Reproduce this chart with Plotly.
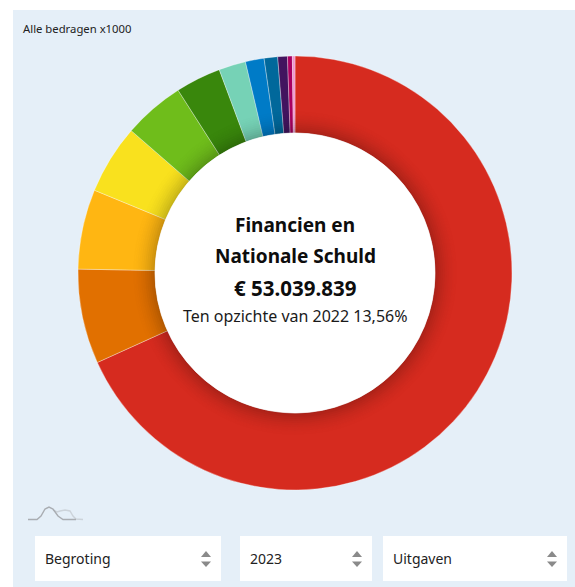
import plotly.graph_objects as go

W, H = 575, 587
labels = ["Financien en Nationale Schuld", "Post 2", "Post 3", "Post 4", "Post 5", "Post 6",
          "Post 7", "Post 8", "Post 9", "Post 10", "Post 11", "Post 12"]
values = [53039839, 5480000, 4620000, 4010000, 3540000, 2630000,
          1560000, 1080000, 780000, 560000, 280000, 150000]
colors = ["#d62b1f", "#e17000", "#ffb612", "#f9e11e", "#6fbd1b", "#39870c",
          "#76d2b6", "#007bc7", "#01689b", "#42145f", "#a90061", "#f092cd"]
center_lines = ["<b>Financien en</b>", "<b>Nationale Schuld</b>", "<b>€ 53.039.839</b>"]
center_sizes = [19, 19, 20.5]
sub_line = "Ten opzichte van 2022 13,56%"
note = "Alle bedragen x1000"
selects = ["Begroting", "2023", "Uitgaven"]

FONT = "Noto Sans"
CX, CY, R, RI = 295, 273, 217, 140
px = lambda x: x / W
py = lambda y: 1 - y / H

fig = go.Figure(go.Pie(
    labels=labels, values=values, sort=False, direction="clockwise", rotation=0,
    hole=RI / R, textinfo="none", hoverinfo="label+value",
    marker=dict(colors=colors, line=dict(color="rgba(255,255,255,0.55)", width=0.6)),
    domain=dict(x=[px(CX - R), px(CX + R)], y=[py(CY + R), py(CY - R)]),
    showlegend=False,
))

def rect(x0, y0, x1, y1, color, layer="below"):
    return dict(type="rect", xref="paper", yref="paper", x0=px(x0), x1=px(x1),
                y0=py(y1), y1=py(y0), fillcolor=color, line_width=0, layer=layer)

def circle(r, **kw):
    return dict(type="circle", xref="paper", yref="paper", x0=px(CX - r), x1=px(CX + r),
                y0=py(CY + r), y1=py(CY - r), layer="above", **kw)

shapes = [rect(13, 10, W, H, "#e5eff8")]
# soft shadow of the white centre on the ring
N = 12
for i in range(N, 0, -1):
    a = 0.20 * (1 - (i - 1) / N) ** 2
    shapes.append(circle(RI + i * 2 - 1, fillcolor="rgba(0,0,0,0)",
                         line=dict(color=f"rgba(0,0,0,{a:.3f})", width=2)))
shapes.append(circle(RI, fillcolor="white", line=dict(color="white", width=0.5)))

boxes = [(35, 221), (240, 372), (383, 567)]
annotations = []
def text(x, y, s, size, color="#111111", anchor="center"):
    annotations.append(dict(xref="paper", yref="paper", x=px(x), y=py(y), text=s, showarrow=False,
                            xanchor=anchor, yanchor="middle",
                            font=dict(family=FONT, size=size, color=color)))

for (x0, x1), s in zip(boxes, selects):
    shapes.append(rect(x0, 536, x1, 581, "white"))
    text(x0 + 8, 558.5, s, 14, "#222222", "left")
    ax = x1 - 15
    for tip, base in ((551, 557), (567, 561.5)):
        path = f"M {px(ax-5)} {py(base)} L {px(ax+5)} {py(base)} L {px(ax)} {py(tip)} Z"
        shapes.append(dict(type="path", xref="paper", yref="paper", path=path,
                           fillcolor="#8a8a8a", line_width=0))

# small sparkline icon
def curve(pts):
    return "M " + " L ".join(f"{px(x)} {py(y)}" for x, y in pts)
shapes.append(dict(type="path", xref="paper", yref="paper",
                   path=curve([(53, 510), (57, 512), (60, 511), (65, 510), (70, 511), (73, 516), (76, 519), (83, 519.5)]),
                   line=dict(color="#ccd3da", width=1.4), fillcolor="rgba(0,0,0,0)"))
shapes.append(dict(type="path", xref="paper", yref="paper",
                   path=curve([(28, 519.5), (37, 519.5), (41, 516), (45, 509), (49, 507), (53, 509), (58, 516), (63, 519.5), (76, 519.5)]),
                   line=dict(color="#a9adb2", width=1.4), fillcolor="rgba(0,0,0,0)"))

text(21, 28, note, 11.3, "#222222", "left")
for y, s, fs in zip((225, 256, 288), center_lines, center_sizes):
    text(CX, y, s, fs, "#0d0d0d")
text(CX, 316, sub_line, 16, "#1a1a1a")

fig.update_layout(width=W, height=H, margin=dict(l=0, r=0, t=0, b=0), autosize=False,
                  paper_bgcolor="white", plot_bgcolor="white",
                  shapes=shapes, annotations=annotations)
fig.write_html("out.html", config=dict(displayModeBar=False),
               post_script="document.body.style.margin='0';document.body.style.overflow='hidden';")
